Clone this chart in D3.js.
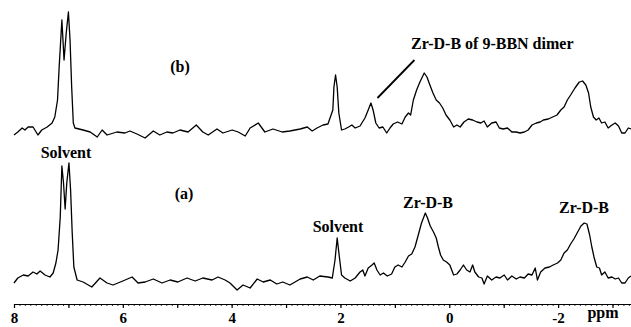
<!DOCTYPE html>
<html>
<head>
<meta charset="utf-8">
<script src="https://cdn.jsdelivr.net/npm/d3@7/dist/d3.min.js"></script>
<style>
  body { margin: 0; background: #fff; }
  svg text { font-family: "Liberation Serif", "Times New Roman", serif; font-weight: bold; fill: #000; }
</style>
</head>
<body>
<svg width="631" height="327"></svg>
<script>
// chemical shifts (ppm) and intensities
var ppmA = [8.00,7.93,7.83,7.74,7.65,7.58,7.52,7.43,7.34,7.28,7.23,7.19,7.15,7.12,7.09,7.06,7.03,6.99,6.96,6.93,6.90,6.84,
  6.73,6.57,6.42,6.29,6.18,6.00,5.83,5.72,5.59,5.44,5.28,5.13,4.99,4.82,4.67,4.53,4.36,4.25,4.12,4.03,3.90,3.79,3.66,3.53,
  3.42,3.29,3.17,3.06,2.93,2.74,2.61,2.50,2.38,2.23,2.15,2.10,2.06,2.02,1.98,1.92,1.82,1.73,1.64,1.59,1.55,1.49,1.42,1.38,
  1.33,1.27,1.21,1.14,1.06,1.00,0.94,0.87,0.81,0.75,0.69,0.63,0.57,0.51,0.44,0.40,0.35,0.29,0.24,0.20,0.16,0.11,0.05,-0.01,
  -0.08,-0.14,-0.20,-0.26,-0.32,-0.38,-0.43,-0.47,-0.54,-0.60,-0.64,-0.70,-0.78,-0.86,-0.93,-1.01,-1.07,-1.15,-1.23,-1.30,
  -1.38,-1.45,-1.52,-1.58,-1.62,-1.68,-1.76,-1.84,-1.91,-1.99,-2.05,-2.11,-2.17,-2.23,-2.29,-2.35,-2.42,-2.48,-2.53,-2.58,
  -2.62,-2.66,-2.71,-2.76,-2.80,-2.86,-2.92,-2.99,-3.05,-3.11,-3.17,-3.23,-3.29,-3.34];
var intA = [0,5,8,7,11,9,12,8,6,10,20,33,66,117,100,74,100,120,93,50,16,3,
  1,-4,5,0,-2,2,6,0,1,4,0,3,1,5,2,5,3,6,3,0,-7,-2,-5,4,
  1,3,-1,1,-2,4,6,3,7,6,5,23,45,26,8,5,2,5,11,13,7,15,18,20,
  13,8,10,7,9,16,18,16,21,27,29,36,48,60,70,65,57,51,45,36,28,23,21,18,
  8,9,13,18,13,11,18,11,6,5,-1,7,3,6,5,8,3,7,4,6,
  5,9,8,15,3,11,15,16,18,20,23,30,33,39,44,50,57,60,59,48,
  36,26,16,15,8,11,5,6,4,5,0,0,5,7];

var ppmB = [8.00,7.93,7.85,7.80,7.74,7.65,7.56,7.49,7.39,7.30,7.25,7.20,7.17,7.12,7.10,7.08,7.04,7.00,6.97,6.94,6.91,6.88,
  6.73,6.60,6.47,6.38,6.29,6.11,5.96,5.87,5.74,5.59,5.44,5.32,5.19,5.08,4.95,4.80,4.65,4.53,4.43,4.27,4.16,3.99,3.88,3.75,
  3.66,3.51,3.39,3.24,3.07,2.93,2.74,2.61,2.52,2.43,2.32,2.23,2.14,2.12,2.09,2.06,2.03,1.98,1.92,1.85,1.79,1.73,1.64,1.55,
  1.49,1.44,1.40,1.35,1.29,1.22,1.15,1.09,1.03,0.95,0.87,0.81,0.75,0.71,0.66,0.60,0.54,0.46,0.41,0.37,0.30,0.24,0.18,0.12,
  0.06,-0.01,-0.08,-0.14,-0.20,-0.27,-0.35,-0.43,-0.51,-0.58,-0.64,-0.70,-0.78,-0.86,-0.92,-0.99,-1.07,-1.15,-1.23,-1.30,
  -1.38,-1.45,-1.52,-1.60,-1.67,-1.73,-1.82,-1.90,-1.98,-2.05,-2.11,-2.17,-2.23,-2.31,-2.39,-2.45,-2.51,-2.56,-2.60,-2.65,
  -2.70,-2.75,-2.80,-2.86,-2.92,-2.99,-3.05,-3.11,-3.17,-3.23,-3.29,-3.34];
var intB = [-2,1,5,3,6,6,-2,3,6,10,16,33,66,113,93,73,100,121,93,46,10,5,
  3,1,-4,3,-2,1,0,2,-1,-5,2,-2,1,0,3,1,8,1,-2,4,0,3,1,-3,
  5,10,1,4,1,2,4,6,2,5,8,9,23,46,58,46,20,3,4,6,8,5,7,15,
  23,30,23,10,5,6,0,5,9,11,9,16,20,18,33,43,51,60,56,50,40,33,30,25,
  18,13,6,8,6,11,14,13,11,10,12,6,10,11,5,4,5,1,1,0,
  1,3,8,10,11,13,14,16,18,23,26,33,38,45,51,52,48,40,26,16,
  13,15,10,11,5,8,10,7,0,0,5,4];

var xMajor = d3.range(-3, 9);
var xLabels = [8, 6, 4, 2, 0, -2];

var svg = d3.select("svg");

var x = d3.scaleLinear().domain([8, -3.34]).range([14, 631]);
var yA = d3.scaleLinear().domain([0, 120]).range([283, 163]);
var yB = d3.scaleLinear().domain([0, 120]).range([133, 13]);

function trace(ppm, ints, y){
    var pts = ppm.map(function(p, i){ return [p, ints[i]]; });
    var line = d3.line()
        .x(function(d){ return x(d[0]); })
        .y(function(d){ return y(d[1]); });
    svg.append("path")
        .attr("d", line(pts))
        .attr("fill", "none")
        .attr("stroke", "#000")
        .attr("stroke-width", 1.3)
        .attr("stroke-linejoin", "round");
}
trace(ppmB, intB, yB);
trace(ppmA, intA, yA);

// axis: minor ticks every 0.1 ppm, major every 1 ppm
var minor = d3.range(-33, 81).map(function(v){ return v / 10; });
svg.append("g")
    .attr("transform", "translate(0,304)")
    .call(d3.axisBottom(x).tickValues(minor).tickSize(2).tickSizeOuter(0).tickFormat(""))
    .call(function(g){ g.selectAll("line").attr("stroke-width", 0.8); g.select(".domain").attr("stroke-width", 1.2); });

svg.append("g")
    .attr("transform", "translate(0,304)")
    .call(d3.axisBottom(x).tickValues(xMajor).tickSize(4).tickSizeOuter(0)
        .tickFormat(function(d){ return xLabels.indexOf(d) >= 0 ? String(d) : ""; }))
    .call(function(g){
        g.select(".domain").remove();
        g.selectAll("line").attr("stroke-width", 1.2);
        g.selectAll("text").attr("y", 19).attr("dy", 0)
            .style("font-size", "15px").style("font-family", null);
    });

svg.append("text").attr("x", 603).attr("y", 318).attr("text-anchor", "middle")
    .style("font-size", "16px").text("ppm");

// annotations
function label(t, px, py, size, anchor){
    svg.append("text").attr("x", px).attr("y", py)
        .attr("text-anchor", anchor || "middle")
        .style("font-size", size + "px").text(t);
}
label("(b)", 180, 72, 16);
label("(a)", 184, 199, 16);
label("Solvent", 66, 158, 16);
label("Solvent", 338, 232, 16);
label("Zr-D-B", 428, 208, 16);
label("Zr-D-B", 584, 213, 16);
label("Zr-D-B of 9-BBN dimer", 411, 49, 16, "start");

svg.append("line")
    .attr("x1", x(1.32)).attr("y1", yB(35))
    .attr("x2", x(0.64)).attr("y2", yB(73))
    .attr("stroke", "#000").attr("stroke-width", 1.8);
</script>
</body>
</html>
